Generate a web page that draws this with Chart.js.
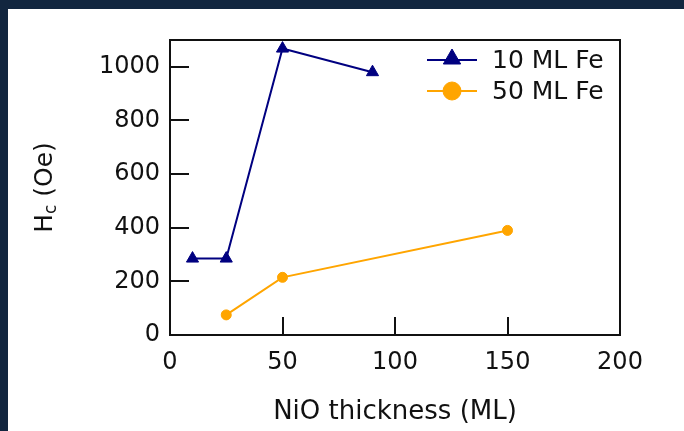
<!DOCTYPE html>
<html>
<head>
<meta charset="utf-8">
<script src="https://cdn.jsdelivr.net/npm/chart.js@4"></script>
<style>
  html, body { margin: 0; padding: 0; background: #ffffff; }
  #wrap { position: relative; width: 684px; height: 431px; }
</style>
</head>
<body>
<div id="wrap"><canvas id="c" width="684" height="431"></canvas></div>
<script>
// NiO thickness (ML) and coercive field Hc (Oe) for two Fe thicknesses
const thin_x = [10, 25, 50, 90];
const thin_y = [285, 285, 1068, 980];
const thick_x = [25, 50, 150];
const thick_y = [75, 215, 390];
const xTicks = [0, 50, 100, 150, 200];
const yTicks = [0, 200, 400, 600, 800, 1000];
const seriesNames = ['10 ML Fe', '50 ML Fe'];
const xTitle = 'NiO thickness (ML)';
const yTitleMain = 'H';
const yTitleSub = 'c';
const yTitleRest = ' (Oe)';

const NAVY = '#000080';
const ORANGE = '#FFA500';
const FRAME = '#12263f';
const FONT = 'DejaVu Sans, Verdana, sans-serif';
const INK = '#111111';

const pts = (xs, ys) => xs.map((x, i) => ({ x: x, y: ys[i] }));

function marker(ctx, style, r, cx, cy) {
  ctx.beginPath();
  if (style === 'triangle') {
    ctx.moveTo(cx, cy - r);
    ctx.lineTo(cx + r * Math.sin(2 * Math.PI / 3), cy - r * Math.cos(2 * Math.PI / 3));
    ctx.lineTo(cx + r * Math.sin(4 * Math.PI / 3), cy - r * Math.cos(4 * Math.PI / 3));
    ctx.closePath();
  } else {
    ctx.arc(cx, cy, r, 0, Math.PI * 2);
  }
  ctx.fill();
  ctx.stroke();
}

// frame, box, inward ticks, legend and axis titles
const decor = {
  id: 'decor',
  beforeDraw(chart) {
    const ctx = chart.ctx;
    ctx.save();
    ctx.fillStyle = '#ffffff';
    ctx.fillRect(0, 0, chart.width, chart.height);
    ctx.fillStyle = FRAME;
    ctx.fillRect(0, 0, chart.width, 9);
    ctx.fillRect(0, 0, 8, chart.height);
    ctx.restore();
  },
  afterDatasetsDraw(chart) {
    const ctx = chart.ctx;
    const a = chart.chartArea;
    const xs = chart.scales.x, ys = chart.scales.y;
    ctx.save();
    ctx.strokeStyle = INK;
    ctx.lineWidth = 2;
    ctx.beginPath();
    yTicks.forEach(v => {
      const py = Math.round(ys.getPixelForValue(v));
      if (py < a.bottom - 1 && py > a.top + 1) { ctx.moveTo(a.left, py); ctx.lineTo(a.left + 19, py); }
    });
    xTicks.forEach(v => {
      const px = Math.round(xs.getPixelForValue(v));
      if (px > a.left + 1 && px < a.right - 1) { ctx.moveTo(px, a.bottom); ctx.lineTo(px, a.bottom - 18); }
    });
    ctx.stroke();
    ctx.strokeRect(a.left, a.top, a.right - a.left, a.bottom - a.top);

    // legend
    const lx0 = 427, lx1 = 477, tx = 492;
    const rows = [60, 91];
    chart.data.datasets.forEach((ds, i) => {
      const y = rows[i];
      ctx.strokeStyle = ds.borderColor;
      ctx.lineWidth = ds.borderWidth;
      ctx.beginPath(); ctx.moveTo(lx0, y); ctx.lineTo(lx1, y); ctx.stroke();
      ctx.fillStyle = ds.pointBackgroundColor;
      ctx.strokeStyle = ds.pointBorderColor;
      ctx.lineWidth = 1;
      marker(ctx, ds.pointStyle, ds.pointStyle === 'triangle' ? 10 : 9, (lx0 + lx1) / 2, ds.pointStyle === 'triangle' ? y - 1 : y);
      ctx.fillStyle = INK;
      ctx.font = '25px ' + FONT;
      ctx.textAlign = 'left';
      ctx.textBaseline = 'middle';
      ctx.fillText(ds.label, tx, y + 1);
    });

    // x title
    ctx.fillStyle = INK;
    ctx.font = '26px ' + FONT;
    ctx.textAlign = 'center';
    ctx.textBaseline = 'middle';
    ctx.fillText(xTitle, (a.left + a.right) / 2, 412);

    // y title with subscript
    const big = '25px ' + FONT, small = '17px ' + FONT;
    ctx.font = big; const wH = ctx.measureText(yTitleMain).width;
    const wR = ctx.measureText(yTitleRest).width;
    ctx.font = small; const wC = ctx.measureText(yTitleSub).width;
    const total = wH + wC + wR;
    ctx.translate(45, (a.top + a.bottom) / 2);
    ctx.rotate(-Math.PI / 2);
    ctx.textAlign = 'left';
    ctx.textBaseline = 'middle';
    let x = -total / 2;
    ctx.font = big; ctx.fillText(yTitleMain, x, 0); x += wH;
    ctx.font = small; ctx.fillText(yTitleSub, x, 7); x += wC;
    ctx.font = big; ctx.fillText(yTitleRest, x, 0);
    ctx.restore();
  }
};

new Chart(document.getElementById('c'), {
  type: 'scatter',
  data: {
    datasets: [
      {
        label: seriesNames[0], data: pts(thin_x, thin_y), showLine: true,
        borderColor: NAVY, backgroundColor: NAVY, borderWidth: 2,
        pointStyle: 'triangle', pointRadius: 7,
        pointBackgroundColor: NAVY, pointBorderColor: NAVY, pointBorderWidth: 1
      },
      {
        label: seriesNames[1], data: pts(thick_x, thick_y), showLine: true,
        borderColor: ORANGE, backgroundColor: ORANGE, borderWidth: 2,
        pointStyle: 'circle', pointRadius: 5,
        pointBackgroundColor: ORANGE, pointBorderColor: ORANGE, pointBorderWidth: 1
      }
    ]
  },
  options: {
    responsive: false, animation: false, devicePixelRatio: 1,
    layout: { padding: { left: 0, top: 40, right: 64, bottom: 0 } },
    plugins: { legend: { display: false }, tooltip: { enabled: false } },
    scales: {
      x: {
        type: 'linear', min: 0, max: 200,
        afterFit(s) { s.height = 96; },
        afterBuildTicks(s) { s.ticks = xTicks.map(v => ({ value: v })); },
        grid: { display: false, drawTicks: false },
        border: { display: false },
        ticks: { color: INK, font: { family: FONT, size: 24 }, padding: 13, maxRotation: 0, autoSkip: false,
                 callback: v => String(v) }
      },
      y: {
        type: 'linear', min: 0, max: 1100,
        afterFit(s) { s.width = 170; },
        afterBuildTicks(s) { s.ticks = yTicks.map(v => ({ value: v })); },
        grid: { display: false, drawTicks: false },
        border: { display: false },
        ticks: { color: INK, font: { family: FONT, size: 24 }, padding: 10, autoSkip: false,
                 callback: v => String(v) }
      }
    }
  },
  plugins: [decor]
});
</script>
</body>
</html>
